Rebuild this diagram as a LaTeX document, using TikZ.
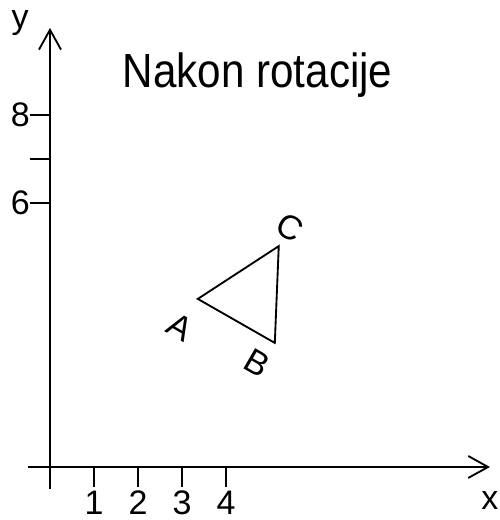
\documentclass[tikz,border=0pt]{standalone}
\usepackage{fontspec}
\setmainfont{Liberation Sans}
\usetikzlibrary{arrows.meta,positioning}

\begin{document}
\begin{tikzpicture}[
			axis/.style={line width=1.2pt, -{Straight Barb[length=4.5mm, width=5mm, line width=1.2pt]}},
			tick/.style={line width=1.2pt},
			lbl/.style={inner sep=0pt, font=\fontsize{22}{24}\selectfont},
			vlbl/.style={inner sep=0pt, font=\fontsize{22}{24}\selectfont, rotate=-30}
			]
			\useasboundingbox (-1.136,-1.205) rectangle (10.227,10.614);
			\coordinate (xs) at (-0.5,0);
			\coordinate (xe) at (10,0);
			\coordinate (ys) at (0,-0.5);
			\coordinate (ye) at (0,9.98);
			\draw[axis] (xs) -- (xe);
			\draw[axis] (ys) -- (ye);
			\node[lbl] (xl) at (10,-0.76) {x};
			\node[lbl] (yl) at (-0.68,10.08) {y};
			% ticks on x
			\foreach \i in {1,2,3,4} {
				\coordinate (xt\i) at (\i,0);
				\coordinate (xb\i) at (\i,-0.45);
				\draw[tick] (xt\i) -- (xb\i);
				\node[lbl, below=0.09cm of xb\i] (xn\i) {\i};
			}
			% ticks on y
			\foreach \j in {6,7,8} {
				\coordinate (yt\j) at (0,\j);
				\coordinate (yb\j) at (-0.45,\j);
				\draw[tick] (yt\j) -- (yb\j);
			}
			\node[lbl, left=0pt of yb6] (yn6) {6};
			\node[lbl, left=0pt of yb8] (yn8) {8};
			\node[inner sep=0pt, font=\fontsize{31}{33}\selectfont, xscale=0.88, transform shape] (title) at (4.72,8.9) {Nakon rotacije};
			% triangle
			\coordinate (A) at (3.36,3.82);
			\coordinate (B) at (5.11,2.82);
			\coordinate (C) at (5.2,5.02);
			\draw[tick] (A) -- (B) -- (C) -- cycle;
			\node[vlbl] (la) at (2.95,3.18) {A};
			\node[vlbl] (lb) at (4.7,2.36) {B};
			\node[vlbl] (lc) at (5.45,5.45) {C};
		\end{tikzpicture}
\end{document}
